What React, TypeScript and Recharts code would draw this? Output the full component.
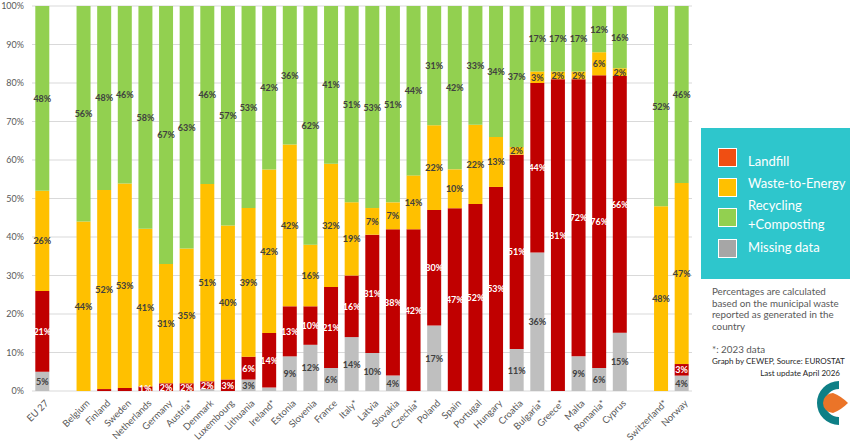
import { BarChart, Bar, XAxis, YAxis, CartesianGrid, LabelList } from "recharts";

const countries = [
  "EU 27", "gap1", "Belgium", "Finland", "Sweden", "Netherlands", "Germany", "Austria*", "Denmark",
  "Luxembourg", "Lithuania", "Ireland*", "Estonia", "Slovenia", "France", "Italy*", "Latvia",
  "Slovakia", "Czechia*", "Poland", "Spain", "Portugal", "Hungary", "Croatia", "Bulgaria*",
  "Greece*", "Malta", "Romania*", "Cyprus", "gap2", "Switzerland*", "Norway",
];
const missing = [5, 0, 0, 0, 0, 0, 0, 0, 0.5, 0, 3, 0.9, 9, 12, 6, 14, 10, 4, 0, 17, 0, 0, 0, 11, 36, 0, 9, 6, 15, 0, 0, 4];
const landfill = [21, 0, 0, 0.5, 0.8, 1.2, 2, 2, 2, 3, 6, 14, 13, 10, 21, 16, 31, 38, 42, 30, 47, 52, 53, 51, 44, 81, 72, 76, 66, 0, 0, 3];
const wte = [26, 0, 44, 52, 53, 41, 31, 35, 51, 40, 39, 42, 42, 16, 32, 19, 7, 7, 14, 22, 10, 22, 13, 2, 3, 2, 2, 6, 2, 0, 48, 47];
const recycling = [48, 0, 56, 48, 46, 58, 67, 63, 46, 57, 53, 42, 36, 62, 41, 51, 53, 51, 44, 31, 42, 33, 34, 37, 17, 17, 17, 12, 16, 0, 52, 46];
const yTicks = [0, 0.1, 0.2, 0.3, 0.4, 0.5, 0.6, 0.7, 0.8, 0.9, 1];

const data = countries.map((c, i) => ({
  country: c,
  missing: missing[i],
  landfill: landfill[i],
  wte: wte[i],
  recycling: recycling[i],
}));

const FONT = "Lato, 'Open Sans', sans-serif";

const makeLabel = (fill: string) => (props: any) => {
  const { x, y, width, height, value } = props;
  if (typeof value !== "number" || value < 0.95) return null;
  return (
    <text
      x={x + width / 2}
      y={y + height / 2}
      textAnchor="middle"
      dominantBaseline="central"
      fontSize={9}
      fontWeight={700}
      fontFamily={FONT}
      fill={fill}
    >
      {Math.round(value)}%
    </text>
  );
};

const XTick = (props: any) => {
  const { x, y, payload } = props;
  const name = String(payload.value);
  if (name.startsWith("gap")) return null;
  return (
    <g transform={`translate(${x + 4},${y + 2})`}>
      <text textAnchor="end" transform="rotate(-45)" fontSize={9.5} fontFamily={FONT} fill="#595959" dy={4}>
        {name}
      </text>
    </g>
  );
};

// legend entries (box-relative positions tuned to the reference)
const legendItems = [
  { label: "Landfill", color: "#F04E12", sq: 20, txt: [33] },
  { label: "Waste-to-Energy", color: "#FFC000", sq: 50, txt: [55] },
  { label: "Recycling\n+Composting", color: "#92D050", sq: 80, txt: [77, 96] },
  { label: "Missing data", color: "#A6A6A6", sq: 111, txt: [119] },
];

export default function App() {
  return (
    <div style={{ position: "fixed", left: 0, top: 0, width: 850, height: 441, background: "#fff", fontFamily: FONT }}>
      <BarChart
        width={700}
        height={441}
        data={data}
        stackOffset="expand"
        barCategoryGap="16%"
        margin={{ top: 6, right: 8, bottom: 0, left: 0 }}
      >
        <CartesianGrid vertical={false} stroke="#D9D9D9" />
        <YAxis
          type="number"
          domain={[0, 1]}
          ticks={yTicks}
          tickFormatter={(v: number) => `${Math.round(v * 100)}%`}
          axisLine={false}
          tickLine={false}
          width={32}
          tick={{ fontSize: 9, fill: "#595959", fontFamily: FONT }}
        />
        <XAxis dataKey="country" interval={0} height={50} tick={<XTick />} axisLine={false} tickLine={false} />
        <Bar dataKey="missing" stackId="a" fill="#BFBFBF" isAnimationActive={false}>
          <LabelList dataKey="missing" content={makeLabel("#404040")} />
        </Bar>
        <Bar dataKey="landfill" stackId="a" fill="#C00000" isAnimationActive={false}>
          <LabelList dataKey="landfill" content={makeLabel("#FFFFFF")} />
        </Bar>
        <Bar dataKey="wte" stackId="a" fill="#FFC000" isAnimationActive={false}>
          <LabelList dataKey="wte" content={makeLabel("#404040")} />
        </Bar>
        <Bar dataKey="recycling" stackId="a" fill="#92D050" isAnimationActive={false}>
          <LabelList dataKey="recycling" content={makeLabel("#404040")} />
        </Bar>
      </BarChart>

      {/* legend box */}
      <div style={{ position: "absolute", left: 701, top: 128, width: 149, height: 151, background: "#2EC6CC" }}>
        {legendItems.map((it) => (
          <div key={it.label}>
            <div
              style={{
                position: "absolute",
                left: 17,
                top: it.sq,
                width: 19,
                height: 19,
                background: it.color,
                border: "1px solid #fff",
                boxSizing: "border-box",
              }}
            />
            {it.label.split("\n").map((l, j) => (
              <div
                key={l}
                style={{
                  position: "absolute",
                  left: 47,
                  top: it.txt[j] - 9,
                  height: 18,
                  lineHeight: "18px",
                  color: "#fff",
                  fontSize: 13,
                  whiteSpace: "nowrap",
                }}
              >
                {l}
              </div>
            ))}
          </div>
        ))}
      </div>

      <div style={{ position: "absolute", left: 712, top: 286, width: 135, fontSize: 9.8, lineHeight: "11.5px", color: "#595959" }}>
        Percentages are calculated based on the municipal waste reported as generated in the country
      </div>
      <div style={{ position: "absolute", left: 712, top: 343, fontSize: 9.8, color: "#595959" }}>*: 2023 data</div>
      <div style={{ position: "absolute", left: 712, top: 356, fontSize: 8, color: "#262626", whiteSpace: "nowrap" }}>
        Graph by CEWEP, Source: EUROSTAT
      </div>
      <div style={{ position: "absolute", right: 10, top: 368, fontSize: 8, color: "#262626", whiteSpace: "nowrap" }}>
        Last update April 2026
      </div>

      <svg style={{ position: "absolute", left: 803, top: 379 }} width={47} height={48}>
        <path d="M36 2 A22 22 0 1 0 36 46 L36 38 A14 14 0 1 1 36 10 Z" fill="#0E7F86" />
        <path d="M30 14 A10 10 0 1 0 30 34 Q38 31 45 24 Q38 17 30 14 Z" fill="#EB7428" />
      </svg>
    </div>
  );
}
